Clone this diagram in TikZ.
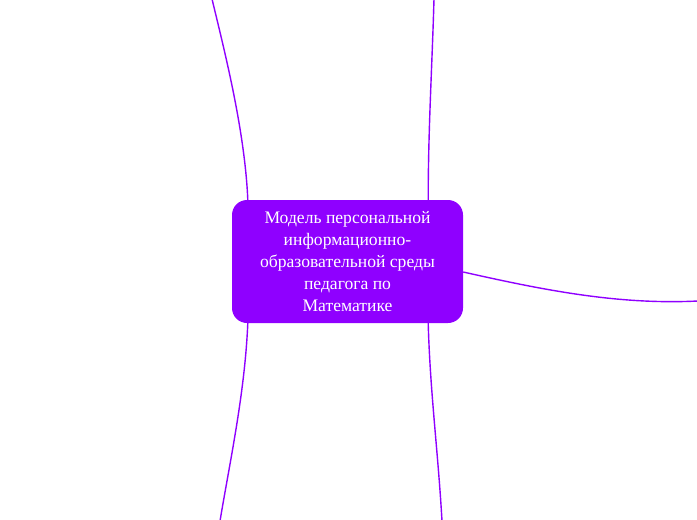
\documentclass[tikz,border=0pt]{standalone}
\usepackage{fontspec}
\setmainfont{Liberation Serif}
\definecolor{violetc}{HTML}{8F00FF}
\begin{document}
\begin{tikzpicture}[x=1pt,y=-1pt,
  central/.style={fill=violetc, rounded corners=15pt, minimum width=231pt, minimum height=123pt,
    text=white, align=center, font=\fontsize{17.6}{22}\selectfont, inner sep=0pt},
  link/.style={draw=violetc, line width=1.4pt}]
\useasboundingbox (0,0) rectangle (697,520);
\node[central] (c) at (347.5,261.5) {Модель персональной\\информационно-\\образовательной среды\\педагога по\\Математике};
\coordinate (e1) at (212,-1);
\coordinate (e2) at (434,-1);
\coordinate (e3) at (698,301);
\coordinate (e4) at (220,521);
\coordinate (e5) at (442,521);
\draw[link] ([xshift=16pt]c.north west) .. controls +(-3,-70) and +(12,50) .. (e1);
\draw[link] ([xshift=-35pt]c.north east) .. controls +(0,-70) and +(-2,70) .. (e2);
\draw[link] ([yshift=-10.5pt]c.east) .. controls +(80,18) and +(-80,4) .. (e3);
\draw[link] ([xshift=16pt]c.south west) .. controls +(-3,70) and +(10,-60) .. (e4);
\draw[link] ([xshift=-35pt]c.south east) .. controls +(2,70) and +(-4,-70) .. (e5);
\end{tikzpicture}
\end{document}
